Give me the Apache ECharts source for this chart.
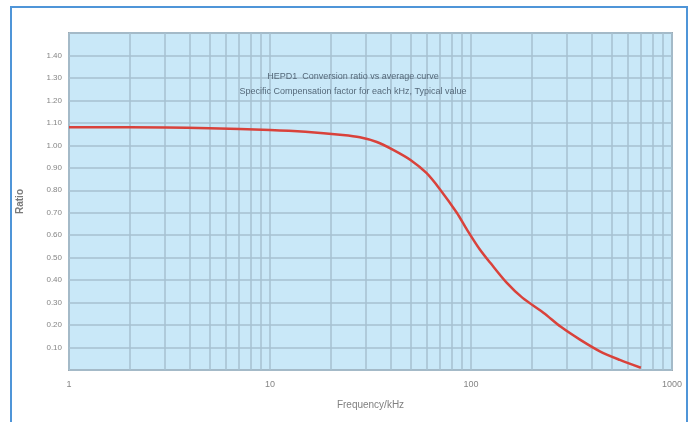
<!DOCTYPE html>
<html>
<head>
<meta charset="utf-8">
<script src="https://cdn.jsdelivr.net/npm/echarts@6/dist/echarts.min.js"></script>
<style>
html,body{margin:0;padding:0;background:#ffffff;}
#frame{position:absolute;left:10px;top:6px;width:674px;height:430px;border:2px solid #4f95d8;border-bottom:none;}
#chart{position:absolute;left:0;top:0;width:688px;height:422px;}
</style>
</head>
<body>
<div id="frame"></div>
<div id="chart"></div>
<script>
// Frequency values (log axis) and ratio values
const frequency = [1, 2, 5, 10, 15, 23, 28, 34, 41, 50, 60, 70, 85, 95, 110, 125, 150, 180, 230, 280, 350, 440, 550, 700];
const ratio = [1.08, 1.08, 1.076, 1.068, 1.06, 1.046, 1.036, 1.015, 0.98, 0.935, 0.877, 0.805, 0.70, 0.628, 0.54, 0.476, 0.39, 0.322, 0.254, 0.192, 0.134, 0.082, 0.045, 0.01];
const minorFreqs = [2,3,4,5,6,7,8,9,20,30,40,50,60,70,80,90,200,300,400,500,600,700,800,900];
const titleLines = ['HEPD1  Conversion ratio vs average curve', 'Specific Compensation factor for each kHz, Typical value'];
const xName = 'Frequency/kHz';
const yName = 'Ratio';

const chart = echarts.init(document.getElementById('chart'), null, {renderer: 'canvas'});
const gridColor = '#a6c1d1';
chart.setOption({
  backgroundColor: 'transparent',
  animation: false,
  title: {
    text: titleLines.join('\n'),
    left: 348, top: 64, textAlign: 'center',
    textStyle: {fontSize: 9, fontWeight: 'normal', color: '#55697a', lineHeight: 15, fontFamily: 'Liberation Sans'}
  },
  grid: {left: 69, top: 33, right: 16, bottom: 52, show: true, backgroundColor: '#c9e8f8', borderColor: '#9ea9b1', borderWidth: 2},
  xAxis: {
    type: 'log', logBase: 10, min: 1, max: 1000,
    name: xName, nameLocation: 'middle', nameGap: 30,
    nameTextStyle: {fontSize: 10, color: '#808080', fontFamily: 'Liberation Sans'},
    axisLine: {show: false}, axisTick: {show: false},
    axisLabel: {fontSize: 9, color: '#858585', margin: 10, fontFamily: 'Liberation Sans', formatter: v => String(Math.round(v))},
    splitLine: {show: true, lineStyle: {color: gridColor, width: 1.5}}
  },
  yAxis: {
    type: 'value', min: 0, max: 1.5, interval: 0.1,
    name: yName, nameLocation: 'middle', nameGap: 44, nameRotate: 90,
    nameTextStyle: {fontSize: 10, color: '#7a7a7a', fontWeight: 'bold', fontFamily: 'Liberation Sans'},
    axisLine: {show: false}, axisTick: {show: false},
    axisLabel: {fontSize: 8, color: '#858585', margin: 7, fontFamily: 'Liberation Sans',
      formatter: v => (v < 0.05 || v > 1.45) ? '' : v.toFixed(2)},
    splitLine: {show: true, lineStyle: {color: gridColor, width: 1.5}}
  },
  series: [
    {
      type: 'line', data: [], z: 1, silent: true,
      markLine: {
        silent: true, symbol: 'none', label: {show: false}, animation: false,
        lineStyle: {color: gridColor, width: 1.5, type: 'solid'},
        data: minorFreqs.map(f => ({xAxis: f}))
      }
    },
    {
      type: 'line', z: 5, smooth: 0.3, showSymbol: false,
      data: frequency.map((f, i) => [f, ratio[i]]),
      lineStyle: {color: '#d9423b', width: 2.5}
    }
  ]
});
</script>
</body>
</html>
